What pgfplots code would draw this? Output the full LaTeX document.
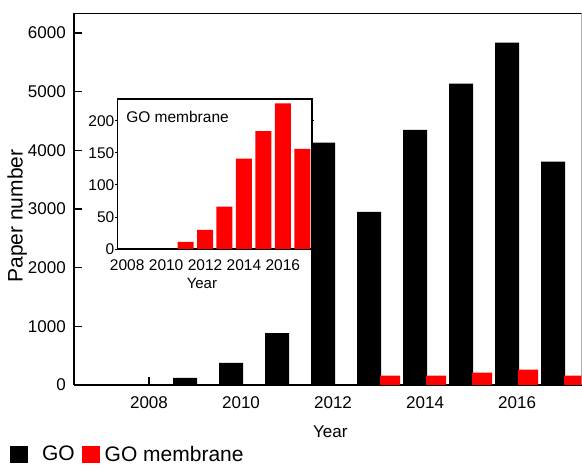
\documentclass[border=0pt]{standalone}
\usepackage{pgfplots}
\pgfplotsset{compat=1.18}
\usepackage{fontspec}
\setmainfont{Liberation Sans}

\definecolor{gored}{RGB}{255,0,0}

% Papers per year
\pgfplotstableread{
year go
2009 120
2010 375
2011 885
2012 4130
2013 2950
2014 4350
2015 5135
2016 5835
2017 3805
}\godata

\pgfplotstableread{
year mem
2013 160
2014 158
2015 210
2016 260
2017 158
}\memmain

\pgfplotstableread{
year mem
2011 11
2012 30
2013 66
2014 141
2015 184
2016 227
2017 156
}\meminset

\begin{document}
\begin{tikzpicture}
\fontsize{17}{20}\selectfont
\path[use as bounding box] (-74pt,-81pt) rectangle (508pt,385pt);

% inset: GO membrane only
\begin{axis}[
  at={(43.5pt,136pt)}, anchor=south west,
  scale only axis, width=194.5pt, height=150pt,
  xmin=2007.5, xmax=2017.5, ymin=0, ymax=234,
  xtick={2008,2010,...,2016}, ytick={0,50,...,200},
  axis background/.style={fill=white},
  axis line style={line width=1.4pt, black},
  tick align=outside, major tick length=2pt,
  tick style={black, line width=0.8pt},
  xtick style={draw=none},
  /pgf/number format/assume math mode=true,
  /pgf/number format/1000 sep={},
  every tick label/.append style={font=\fontsize{15.5}{18}\selectfont},
  yticklabel style={inner sep=0pt, xshift=-1pt},
  xticklabel style={inner sep=0pt, yshift=-8pt},
  xlabel={Year},
  xlabel style={at={(axis description cs:0.434,-0.227)}, anchor=center, inner sep=0pt,
    font=\fontsize{15}{18}\selectfont},
]
\addplot[ybar, bar width=16pt, fill=gored, draw=none] table[x=year, y=mem] {\meminset};
\node[anchor=base west, inner sep=0pt, font=\fontsize{15.5}{18}\selectfont]
  at (axis description cs:0.044,0.84) {GO membrane};
\end{axis}

% main chart
\begin{axis}[
  at={(0pt,0pt)}, anchor=south west,
  scale only axis, width=507.5pt, height=372pt,
  xmin=2006.37, xmax=2017.40, ymin=0, ymax=6340,
  axis x line*=bottom, axis y line*=left,
  axis line style={line width=1.6pt, black},
  xtick={2008,2010,...,2016}, ytick={0,1000,...,6000},
  tick align=inside, major tick length=8pt,
  tick style={black, line width=1.4pt},
  /pgf/number format/assume math mode=true,
  /pgf/number format/1000 sep={},
  every tick label/.append style={font=\fontsize{17}{20}\selectfont},
  yticklabel style={inner sep=0pt, xshift=-8pt},
  xticklabel style={inner sep=0pt, yshift=-11pt},
  xlabel={Year},
  xlabel style={at={(axis description cs:0.505,-0.126)}, anchor=center, inner sep=0pt,
    font=\fontsize{17}{20}\selectfont},
  ylabel={Paper number},
  ylabel style={at={(axis description cs:-0.112,0.454)}, anchor=center, inner sep=0pt,
    font=\fontsize{21}{24}\selectfont},
  legend columns=2,
  legend style={at={(axis description cs:-0.126,-0.188)}, anchor=west,
    draw=none, fill=none, inner sep=0pt, outer sep=0pt,
    font=\fontsize{21}{24}\selectfont,
    nodes={inner sep=0pt},
    /tikz/every even column/.append style={column sep=7pt}},
]
\addplot[ybar, bar width=24pt, bar shift=-10pt, fill=black, draw=none,
  legend image code/.code={\fill[black] (0pt,-8.5pt) rectangle (18pt,8.5pt);}]
  table[x=year, y=go] {\godata};
\addlegendentry{\hspace{14pt}GO}
\addplot[ybar, bar width=20pt, bar shift=11pt, fill=gored, draw=none,
  legend image code/.code={\fill[gored] (0pt,-8.5pt) rectangle (18pt,8.5pt);}]
  table[x=year, y=mem] {\memmain};
\addlegendentry{\hspace{5pt}GO membrane}
\draw[line width=1.6pt, black] (rel axis cs:0,1) -- (rel axis cs:1,1);
\draw[line width=0.6pt, gray] (rel axis cs:1,0) -- (rel axis cs:1,1);
\end{axis}
\end{tikzpicture}
\end{document}
